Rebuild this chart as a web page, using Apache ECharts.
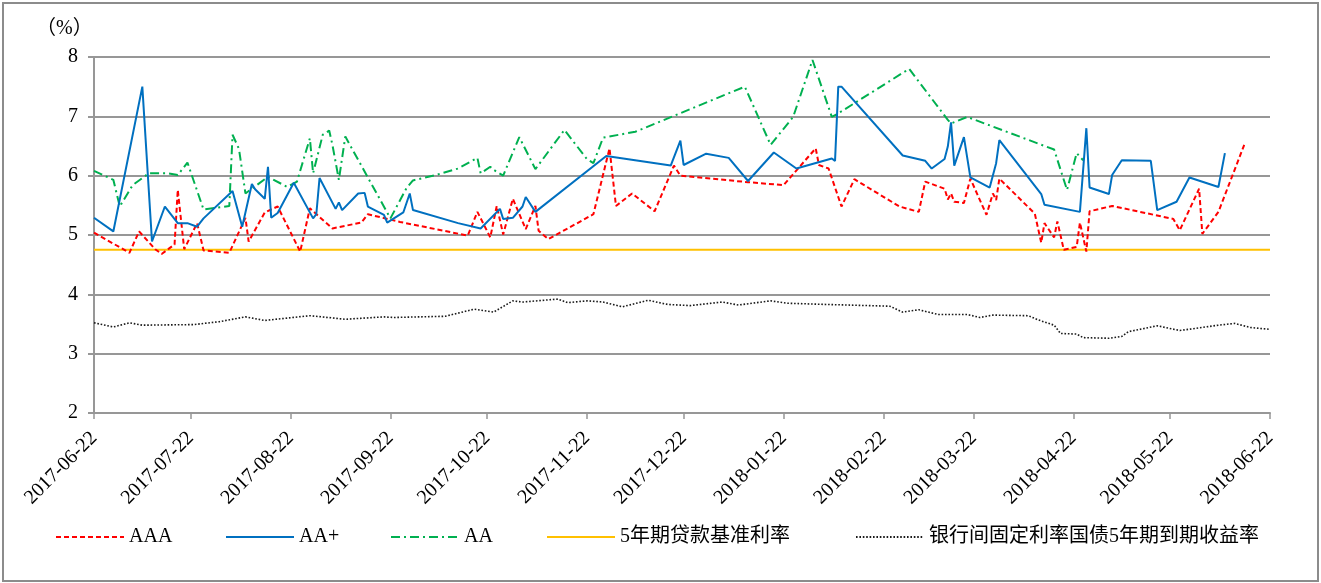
<!DOCTYPE html>
<html><head><meta charset="utf-8">
<script src="https://cdn.jsdelivr.net/npm/echarts@6/dist/echarts.min.js"></script>
<style>html,body{margin:0;padding:0;background:#fff}#c{width:1321px;height:583px}</style>
</head><body><div id="c"></div>
<script>
// ---- data ----
var startDate = '2017-06-22';
var endDate = '2018-06-22';
var yTicks = [2, 3, 4, 5, 6, 7, 8];
var seriesNames = ['AAA', 'AA+', 'AA', '5年期贷款基准利率', '银行间固定利率国债5年期到期收益率'];

var aaa = [['2017-06-22',5.04],['2017-07-03',4.70],['2017-07-06',5.06],['2017-07-11',4.76],['2017-07-13',4.68],['2017-07-17',4.84],['2017-07-18',5.76],['2017-07-20',4.76],['2017-07-24',5.20],['2017-07-26',4.74],['2017-08-03',4.70],['2017-08-08',5.29],['2017-08-09',4.89],['2017-08-14',5.38],['2017-08-18',5.48],['2017-08-25',4.72],['2017-08-28',5.45],['2017-09-04',5.11],['2017-09-13',5.21],['2017-09-15',5.35],['2017-09-25',5.22],['2017-10-16',4.99],['2017-10-19',5.39],['2017-10-23',4.96],['2017-10-25',5.49],['2017-10-27',5.01],['2017-10-30',5.61],['2017-11-03',5.10],['2017-11-06',5.49],['2017-11-07',5.07],['2017-11-10',4.93],['2017-11-24',5.35],['2017-11-29',6.46],['2017-12-01',5.49],['2017-12-06',5.70],['2017-12-13',5.40],['2017-12-19',6.17],['2017-12-21',6.00],['2018-01-11',5.89],['2018-01-22',5.84],['2018-02-01',6.46],['2018-02-02',6.18],['2018-02-05',6.12],['2018-02-09',5.48],['2018-02-13',5.94],['2018-02-27',5.48],['2018-03-05',5.39],['2018-03-07',5.90],['2018-03-13',5.78],['2018-03-14',5.60],['2018-03-15',5.70],['2018-03-16',5.56],['2018-03-19',5.54],['2018-03-21',5.95],['2018-03-26',5.34],['2018-03-28',5.70],['2018-03-29',5.59],['2018-03-30',5.95],['2018-04-10',5.36],['2018-04-12',4.87],['2018-04-13',5.20],['2018-04-16',4.96],['2018-04-17',5.23],['2018-04-19',4.75],['2018-04-23',4.80],['2018-04-24',5.21],['2018-04-26',4.72],['2018-04-27',5.40],['2018-05-04',5.49],['2018-05-23',5.27],['2018-05-25',5.08],['2018-05-31',5.78],['2018-06-01',5.02],['2018-06-06',5.39],['2018-06-14',6.52]];

var aaPlus = [['2017-06-22',5.29],['2017-06-28',5.06],['2017-07-07',7.50],['2017-07-10',4.89],['2017-07-14',5.48],['2017-07-18',5.20],['2017-07-21',5.20],['2017-07-24',5.14],['2017-07-26',5.28],['2017-08-04',5.74],['2017-08-07',5.14],['2017-08-10',5.86],['2017-08-11',5.77],['2017-08-14',5.61],['2017-08-15',6.15],['2017-08-16',5.29],['2017-08-18',5.37],['2017-08-23',5.88],['2017-08-29',5.28],['2017-08-30',5.35],['2017-08-31',5.96],['2017-09-05',5.44],['2017-09-06',5.55],['2017-09-07',5.42],['2017-09-12',5.70],['2017-09-14',5.71],['2017-09-15',5.48],['2017-09-20',5.34],['2017-09-21',5.21],['2017-09-26',5.38],['2017-09-28',5.70],['2017-09-29',5.42],['2017-10-13',5.20],['2017-10-20',5.11],['2017-10-26',5.44],['2017-10-27',5.27],['2017-10-30',5.29],['2017-11-02',5.48],['2017-11-03',5.64],['2017-11-06',5.39],['2017-11-28',6.33],['2017-12-18',6.17],['2017-12-21',6.59],['2017-12-22',6.18],['2017-12-29',6.37],['2018-01-05',6.30],['2018-01-11',5.91],['2018-01-19',6.39],['2018-01-26',6.12],['2018-02-06',6.29],['2018-02-07',6.25],['2018-02-08',7.50],['2018-02-09',7.50],['2018-02-28',6.34],['2018-03-07',6.25],['2018-03-09',6.12],['2018-03-13',6.28],['2018-03-14',6.49],['2018-03-15',6.90],['2018-03-16',6.17],['2018-03-19',6.65],['2018-03-21',5.97],['2018-03-27',5.80],['2018-03-29',6.21],['2018-03-30',6.60],['2018-04-12',5.69],['2018-04-13',5.51],['2018-04-24',5.39],['2018-04-26',6.80],['2018-04-27',5.80],['2018-05-03',5.69],['2018-05-04',6.01],['2018-05-07',6.26],['2018-05-16',6.25],['2018-05-18',5.42],['2018-05-24',5.56],['2018-05-28',5.97],['2018-06-06',5.81],['2018-06-08',6.38]];

var aa = [['2017-06-22',6.08],['2017-06-28',5.93],['2017-06-30',5.48],['2017-07-04',5.84],['2017-07-09',6.04],['2017-07-15',6.04],['2017-07-18',6.01],['2017-07-21',6.22],['2017-07-26',5.43],['2017-08-03',5.49],['2017-08-04',6.69],['2017-08-06',6.45],['2017-08-08',5.70],['2017-08-15',5.98],['2017-08-21',5.81],['2017-08-24',5.90],['2017-08-28',6.63],['2017-08-29',6.04],['2017-09-01',6.69],['2017-09-03',6.76],['2017-09-04',6.52],['2017-09-06',5.93],['2017-09-08',6.66],['2017-09-22',5.28],['2017-09-27',5.79],['2017-09-29',5.92],['2017-10-06',6.01],['2017-10-13',6.12],['2017-10-19',6.30],['2017-10-20',6.04],['2017-10-23',6.15],['2017-10-24',6.10],['2017-10-27',6.00],['2017-11-01',6.65],['2017-11-06',6.11],['2017-11-15',6.77],['2017-11-22',6.28],['2017-11-24',6.21],['2017-11-27',6.64],['2017-12-07',6.74],['2018-01-10',7.50],['2018-01-18',6.52],['2018-01-25',6.99],['2018-01-31',7.95],['2018-02-06',6.99],['2018-02-08',7.05],['2018-03-02',7.80],['2018-03-14',6.94],['2018-03-15',6.88],['2018-03-20',6.99],['2018-04-16',6.44],['2018-04-18',6.10],['2018-04-20',5.76],['2018-04-23',6.38],['2018-04-25',6.26]];

var loanRate = [['2017-06-22',4.75],['2018-06-22',4.75]];

var treasury = [['2017-06-22',3.52],['2017-06-28',3.45],['2017-07-03',3.52],['2017-07-07',3.48],['2017-07-23',3.49],['2017-07-31',3.54],['2017-08-08',3.62],['2017-08-14',3.56],['2017-08-28',3.64],['2017-09-08',3.58],['2017-09-20',3.62],['2017-09-23',3.61],['2017-10-09',3.63],['2017-10-18',3.75],['2017-10-24',3.70],['2017-10-30',3.89],['2017-11-02',3.87],['2017-11-13',3.92],['2017-11-16',3.86],['2017-11-22',3.89],['2017-11-27',3.87],['2017-12-03',3.79],['2017-12-11',3.90],['2017-12-17',3.83],['2017-12-24',3.81],['2018-01-03',3.87],['2018-01-08',3.82],['2018-01-18',3.89],['2018-01-23',3.85],['2018-02-04',3.83],['2018-02-24',3.80],['2018-02-28',3.70],['2018-03-05',3.74],['2018-03-11',3.66],['2018-03-20',3.66],['2018-03-24',3.61],['2018-03-28',3.65],['2018-04-08',3.64],['2018-04-11',3.57],['2018-04-16',3.48],['2018-04-18',3.34],['2018-04-23',3.33],['2018-04-25',3.27],['2018-05-03',3.26],['2018-05-07',3.29],['2018-05-09',3.37],['2018-05-18',3.47],['2018-05-25',3.39],['2018-06-06',3.48],['2018-06-11',3.51],['2018-06-16',3.44],['2018-06-22',3.41]];

// ---- build daily categories ----
function fmt(d){var m=d.getUTCMonth()+1,dd=d.getUTCDate();return d.getUTCFullYear()+'-'+(m<10?'0':'')+m+'-'+(dd<10?'0':'')+dd;}
var categories = [];
(function(){
  var p = startDate.split('-'), q = endDate.split('-');
  var t = Date.UTC(+p[0], +p[1]-1, +p[2]), e = Date.UTC(+q[0], +q[1]-1, +q[2]);
  for (; t <= e; t += 86400000) categories.push(fmt(new Date(t)));
})();
function isTick(i, v){ return String(v).slice(8) === '22'; }

var serif = "'Liberation Serif','Times New Roman','Noto Sans CJK SC',serif";
var gridColor = '#979797';

var colors = ['#FF0000', '#0070C0', '#00B050', '#FFC000', '#1a1a1a'];
var styles = [
  {width: 2, type: [5, 3]},
  {width: 2, type: 'solid'},
  {width: 2, type: [9, 4, 2, 4]},
  {width: 2, type: 'solid'},
  {width: 1.6, type: [1.6, 1.8]}
];
var datas = [aaa, aaPlus, aa, loanRate, treasury];
var legendLeft = [50, 220, 385, 541, 850];

var chart = echarts.init(document.getElementById('c'), null, {renderer: 'canvas'});
chart.setOption({
  animation: false,
  backgroundColor: '#fff',
  grid: {left: 94, right: 51, top: 57, bottom: 170},
  graphic: [
    {type: 'rect', shape: {x: 3, y: 3, width: 1315, height: 578}, style: {fill: 'none', stroke: '#8c8c8c', lineWidth: 2}, silent: true},
    {type: 'text', left: 36, top: 19, style: {text: '（%）', font: "20px 'Liberation Serif','Noto Sans CJK SC',serif", fill: '#000'}}
  ],
  legend: seriesNames.map(function(n, i){
    return {data: [n], left: legendLeft[i], top: 522, itemWidth: 68, itemHeight: 14, itemGap: 0,
      itemStyle: {opacity: 0, borderWidth: 0},
      textStyle: {fontFamily: serif, fontSize: 20, color: '#000'}};
  }),
  xAxis: {
    type: 'category', data: categories, boundaryGap: false,
    axisLine: {lineStyle: {color: gridColor, width: 2}},
    axisTick: {show: true, interval: isTick, length: 6, lineStyle: {color: gridColor, width: 1.5}},
    axisLabel: {interval: isTick, rotate: 45, margin: 22, fontFamily: serif, fontSize: 20, color: '#000'},
    splitLine: {show: false}
  },
  yAxis: {
    type: 'value', min: yTicks[0], max: yTicks[yTicks.length-1], interval: 1,
    axisLine: {show: true, lineStyle: {color: gridColor, width: 2}},
    axisTick: {show: true, length: 6, lineStyle: {color: gridColor, width: 2}},
    axisLabel: {margin: 16, fontFamily: serif, fontSize: 20, color: '#000'},
    splitLine: {lineStyle: {color: gridColor, width: 2}}
  },
  series: seriesNames.map(function(n, i){
    return {name: n, type: 'line', data: datas[i], symbol: 'none', showSymbol: false,
      lineStyle: {color: colors[i], width: styles[i].width, type: styles[i].type},
      itemStyle: {color: colors[i]}, z: [3,4,2,1,2][i]};
  })
});
</script></body></html>
